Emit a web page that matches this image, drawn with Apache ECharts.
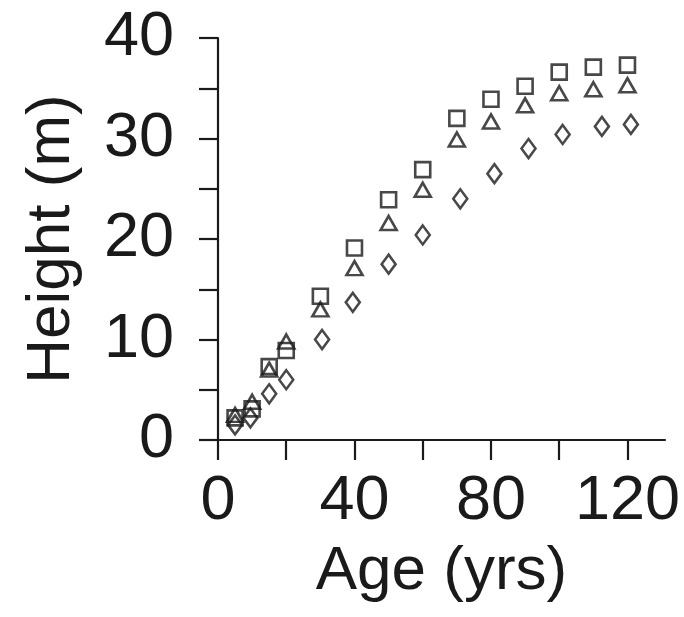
<!DOCTYPE html>
<html>
<head>
<meta charset="utf-8">
<script src="https://cdn.jsdelivr.net/npm/echarts@6/dist/echarts.min.js"></script>
<style>
    html, body { margin: 0; padding: 0; background: #fff; }
    #chart { width: 684px; height: 617px; }
</style>
</head>
<body>
<div id="chart"></div>
<script>
// stand age (yrs)
var ages = [5, 10, 15, 20, 30, 40, 50, 60, 70, 80, 90, 100, 110, 120];
var diamondAges = [5, 9.5, 15, 20, 30.5, 39.5, 50, 60, 71, 81, 91, 101, 112.5, 121];

// heights (m)
var squareHeights = [2.2, 3.1, 7.3, 8.9, 14.3, 19.1, 23.9, 26.9, 32.0, 33.9, 35.2, 36.6, 37.1, 37.3];
var triangleHeights = [2.5, 3.8, 7.0, 9.8, 13.0, 17.1, 21.6, 24.9, 29.9, 31.7, 33.3, 34.5, 34.9, 35.3];
var diamondHeights = [1.5, 2.2, 4.6, 6.0, 10.0, 13.7, 17.5, 20.4, 24.0, 26.5, 29.0, 30.4, 31.2, 31.4];

// ticks
var xTicks = [0, 20, 40, 60, 80, 100, 120];
var xLabels = [0, 40, 80, 120];
var yTicks = [0, 5, 10, 15, 20, 25, 30, 35, 40];
var yLabels = [0, 10, 20, 30, 40];

function pairs(xs, ys) {
    return xs.map(function (x, i) { return [x, ys[i]]; });
}

var ink = '#1a1a1a';
var font = 'Liberation Sans, Arial, sans-serif';

var chart = echarts.init(document.getElementById('chart'));
var hollow = {
    color: 'rgba(0,0,0,0)',
    borderColor: ink,
    borderWidth: 2.6
};
var option = {
    animation: false,
    grid: {
        left: 218,
        top: 38,
        right: 19,
        bottom: 177
    },
    xAxis: {
        type: 'value',
        min: 0,
        max: 131,
        name: 'Age (yrs)',
        nameLocation: 'middle',
        nameGap: 101,
        nameTextStyle: { color: ink, fontSize: 62, fontFamily: font },
        splitLine: { show: false },
        axisLine: { lineStyle: { color: ink, width: 2.2 } },
        axisTick: {
            customValues: xTicks,
            length: 20,
            lineStyle: { color: ink, width: 2.2 }
        },
        axisLabel: {
            customValues: xLabels,
            margin: 30,
            color: ink,
            fontSize: 63,
            fontFamily: font
        }
    },
    yAxis: {
        type: 'value',
        min: 0,
        max: 40,
        name: 'Height (m)',
        nameLocation: 'middle',
        nameGap: 135,
        nameTextStyle: { color: ink, fontSize: 62, fontFamily: font },
        splitLine: { show: false },
        axisLine: { lineStyle: { color: ink, width: 2.2 } },
        axisTick: {
            customValues: yTicks,
            length: 19,
            lineStyle: { color: ink, width: 2.2 }
        },
        axisLabel: {
            customValues: yLabels,
            margin: 44,
            color: ink,
            fontSize: 63,
            fontFamily: font,
            padding: [0, 0, 10, 0]
        }
    },
    series: [
        {
            name: 'diamond',
            type: 'scatter',
            symbol: 'diamond',
            symbolSize: [14, 19],
            itemStyle: hollow,
            data: pairs(diamondAges, diamondHeights)
        },
        {
            name: 'triangle',
            type: 'scatter',
            symbol: 'triangle',
            symbolSize: [16, 14],
            itemStyle: hollow,
            data: pairs(ages, triangleHeights)
        },
        {
            name: 'square',
            type: 'scatter',
            symbol: 'rect',
            symbolSize: 15,
            itemStyle: hollow,
            data: pairs(ages, squareHeights)
        }
    ]
};
chart.setOption(option);
</script>
</body>
</html>
